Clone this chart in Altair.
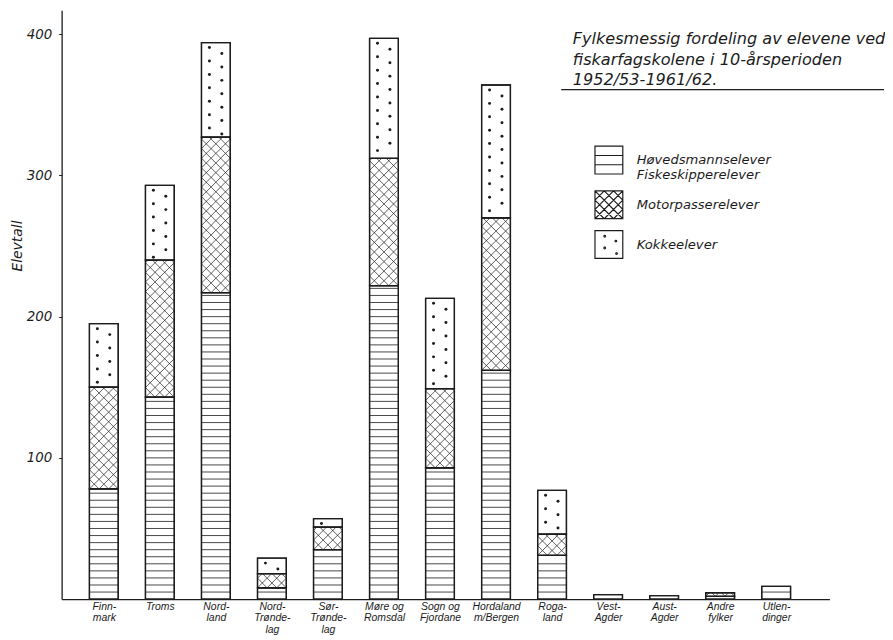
import json
import altair as alt
import pandas as pd

# ---------------- data ----------------
counties = ["Finnmark", "Troms", "Nordland", "Nord-Trøndelag", "Sør-Trøndelag",
            "Møre og Romsdal", "Sogn og Fjordane", "Hordaland m/Bergen", "Rogaland",
            "Vest-Agder", "Aust-Agder", "Andre fylker", "Utlendinger"]
county_labels = [["Finn-", "mark"], ["Troms"], ["Nord-", "land"], ["Nord-", "Trønde-", "lag"],
                 ["Sør-", "Trønde-", "lag"], ["Møre og", "Romsdal"], ["Sogn og", "Fjordane"],
                 ["Hordaland", "m/Bergen"], ["Roga-", "land"], ["Vest-", "Agder"],
                 ["Aust-", "Agder"], ["Andre", "fylker"], ["Utlen-", "dinger"]]
hovedsmann = [78, 143, 217, 8, 35, 222, 93, 162, 31, 3.2, 2.5, 2, 9]
motorpasser = [72, 97, 110, 10, 16, 90, 56, 108, 15, 0, 0, 2.5, 0]
kokke = [45, 53, 67, 11, 6, 85, 64, 94, 31, 0, 0, 0, 0]
categories = ["Høvedsmannselever/Fiskeskipperelever", "Motorpasserelever", "Kokkeelever"]
legend_labels = [["Høvedsmannselever", "Fiskeskipperelever"], ["Motorpasserelever"], ["Kokkeelever"]]
y_ticks = [100, 200, 300, 400]
title_lines = ["Fylkesmessig fordeling av elevene ved",
               "fiskarfagskolene i 10-årsperioden",
               "1952/53-1961/62."]

# ---------------- layout ----------------
W, H = 773, 593
X_DOMAIN = [-0.753, 12.95]
Y_DOMAIN = [0, 417]
SX = W / (X_DOMAIN[1] - X_DOMAIN[0])   # px per x unit
SY = H / (Y_DOMAIN[1] - Y_DOMAIN[0])   # px per y unit
HALF = 14.5 / SX                       # half bar width in x units
FONT = "DejaVu Sans"
XFONT = "Liberation Sans"
INK = "#1c1c1c"

# ---------------- build segments ----------------
seg_rows = []
series = [hovedsmann, motorpasser, kokke]
for i, name in enumerate(counties):
    base = 0.0
    for cat, vals in zip(categories, series):
        v = vals[i]
        if v > 0:
            seg_rows.append(dict(county=name, idx=i, cat=cat, x0=i - HALF, x1=i + HALF,
                                 y0=base, y1=base + v, xm=i, ym=base + v / 2))
            base += v
segs = pd.DataFrame(seg_rows)

# horizontal-line texture (Høvedsmann/Fiskeskipper)
hl = []
STEP = 5.0
for r in seg_rows:
    if r["cat"] != categories[0]:
        continue
    k = 1
    while r["y0"] + k * STEP < r["y1"] - 1.2:
        hl.append(dict(x0=r["x0"], x1=r["x1"], y=r["y0"] + k * STEP))
        k += 1
hlines = pd.DataFrame(hl)

# cross-hatch texture (Motorpasser)
cl = []
for r in seg_rows:
    if r["cat"] != categories[1]:
        continue
    Wp = (r["x1"] - r["x0"]) * SX
    Hp = (r["y1"] - r["y0"]) * SY
    w = Wp / 3.0
    def add(xa, ya, xb, yb):
        cl.append(dict(xa=r["x0"] + xa / SX, ya=r["y0"] + ya / SY,
                       xb=r["x0"] + xb / SX, yb=r["y0"] + yb / SY))
    k = -int(Hp / w) - 1
    while k * w <= Wp:
        c = k * w
        xs, xe = max(0.0, c), min(Wp, Hp + c)
        if xe - xs > 0.3:
            add(xs, xs - c, xe, xe - c)
        k += 1
    k = 0
    while k * w <= Wp + Hp:
        c = k * w
        xs, xe = max(0.0, c - Hp), min(Wp, c)
        if xe - xs > 0.3:
            add(xs, c - xs, xe, c - xe)
        k += 1
cross = pd.DataFrame(cl)

# dot texture (Kokke)
dl = []
for r in seg_rows:
    if r["cat"] != categories[2]:
        continue
    for off_x, first in ((-6.5, 5.0), (6.0, 11.0)):
        yy = r["y1"] * SY - first
        while yy > r["y0"] * SY + 2.5:
            dl.append(dict(x=r["xm"] + off_x / SX, y=yy / SY))
            yy -= 13.5
dots = pd.DataFrame(dl)

# legend symbols (custom paths in [-1,1])
p_h = "M-1,-1H1V1H-1Z M-1,-0.333H1 M-1,0.333H1"
p_x = ("M-1,-1H1V1H-1Z "
       "M-1,-1L1,1 M-1,-0.333L0.333,1 M-1,0.333L-0.333,1 M-0.333,-1L1,0.333 M0.333,-1L1,-0.333 "
       "M-1,1L1,-1 M-0.333,1L1,-0.333 M0.333,1L1,0.333 M-1,0.333L0.333,-1 M-1,-0.333L-0.333,-1")
def dot(cx, cy, r=0.06):
    return f"M{cx - r},{cy}a{r},{r} 0 1,0 {2*r},0a{r},{r} 0 1,0 {-2*r},0"
p_d = "M-1,-1H1V1H-1Z " + " ".join([dot(-0.3, -0.6), dot(0.5, -0.25), dot(-0.3, 0.25), dot(0.55, 0.65)])

# ---------------- chart ----------------
xscale = alt.Scale(domain=X_DOMAIN, nice=False, zero=False)
yscale = alt.Scale(domain=Y_DOMAIN, nice=False, zero=True)

x_label_expr = f"{json.dumps(county_labels, ensure_ascii=False)}[round(datum.value)]"
legend_label_expr = (f"{json.dumps(legend_labels, ensure_ascii=False)}"
                     f"[indexof({json.dumps(categories, ensure_ascii=False)}, datum.label)]")

x_axis = alt.Axis(values=list(range(len(counties))), labelExpr=x_label_expr, title=None,
                  grid=False, ticks=False, domainColor=INK, domainWidth=1.3,
                  labelFont=XFONT, labelFontStyle="italic", labelFontSize=10.5, labelColor=INK,
                  labelPadding=2, labelLineHeight=12, labelBaseline="top", labelFlush=False,
                  labelOverlap=False, labelBound=False)
y_axis = alt.Axis(values=y_ticks, title="Elevtall", grid=False, tickSize=3, tickColor=INK,
                  domainColor=INK, domainWidth=1.3, labelFont=FONT, labelFontStyle="italic",
                  labelFontSize=13.5, labelColor=INK, labelPadding=7,
                  titleFont=FONT, titleFontStyle="italic", titleFontWeight="normal",
                  titleFontSize=14, titleColor=INK, titleX=-44, titleY=237,
                  titleAlign="center", titleBaseline="middle", titleAngle=270)


def X(field):
    return alt.X(field, scale=xscale, axis=x_axis)


def Y(field):
    return alt.Y(field, scale=yscale, axis=y_axis)


bars = alt.Chart(segs).mark_rect(fill="white", stroke=INK, strokeWidth=1.3).encode(
    x=X("x0:Q"), x2="x1:Q", y=Y("y0:Q"), y2="y1:Q",
)

hline_layer = alt.Chart(hlines).mark_rule(color=INK, strokeWidth=0.8).encode(
    x=X("x0:Q"), x2="x1:Q", y=Y("y:Q"),
)

cross_layer = alt.Chart(cross).mark_rule(color=INK, strokeWidth=0.7).encode(
    x=X("xa:Q"), x2="xb:Q", y=Y("ya:Q"), y2="yb:Q",
)

dot_layer = alt.Chart(dots).mark_circle(color=INK, size=9, opacity=1).encode(
    x=X("x:Q"), y=Y("y:Q"),
)

outline = alt.Chart(segs).mark_rect(fillOpacity=0, stroke=INK, strokeWidth=1.3).encode(
    x=X("x0:Q"), x2="x1:Q", y=Y("y0:Q"), y2="y1:Q",
)

legend_layer = alt.Chart(segs).mark_point(opacity=0).encode(
    x=X("xm:Q"), y=Y("ym:Q"),
    shape=alt.Shape("cat:N", scale=alt.Scale(domain=categories, range=[p_h, p_x, p_d]),
                    legend=alt.Legend(title=None, orient="none", legendX=536, legendY=136,
                                      symbolSize=784, symbolStrokeColor=INK,
                                      symbolFillColor="white", symbolStrokeWidth=1.2,
                                      symbolOpacity=1, labelExpr=legend_label_expr,
                                      labelFont=FONT, labelFontStyle="italic",
                                      labelFontSize=13.2, labelColor=INK, labelOffset=13,
                                      labelLimit=300, rowPadding=6, padding=0)),
)

underline = alt.Chart(pd.DataFrame({"a": [0]})).mark_rule(color=INK, strokeWidth=1.3).encode(
    x=alt.value(503), x2=alt.value(828), y=alt.value(80),
)

chart = alt.layer(bars, hline_layer, cross_layer, dot_layer, outline, legend_layer, underline).properties(
    width=W, height=H,
    title=alt.TitleParams(text=title_lines, anchor="end", align="left", dx=-314, dy=79,
                          offset=0, font=FONT, fontStyle="italic",
                          fontWeight="normal", fontSize=16.2, color=INK, lineHeight=21),
    autosize=alt.AutoSizeParams(type="none"),
    padding={"left": 54, "top": 0, "right": 56, "bottom": 38},
    background="white",
).configure_view(stroke=None)

chart.save("out.html", embed_options={"renderer": "svg", "actions": False})
